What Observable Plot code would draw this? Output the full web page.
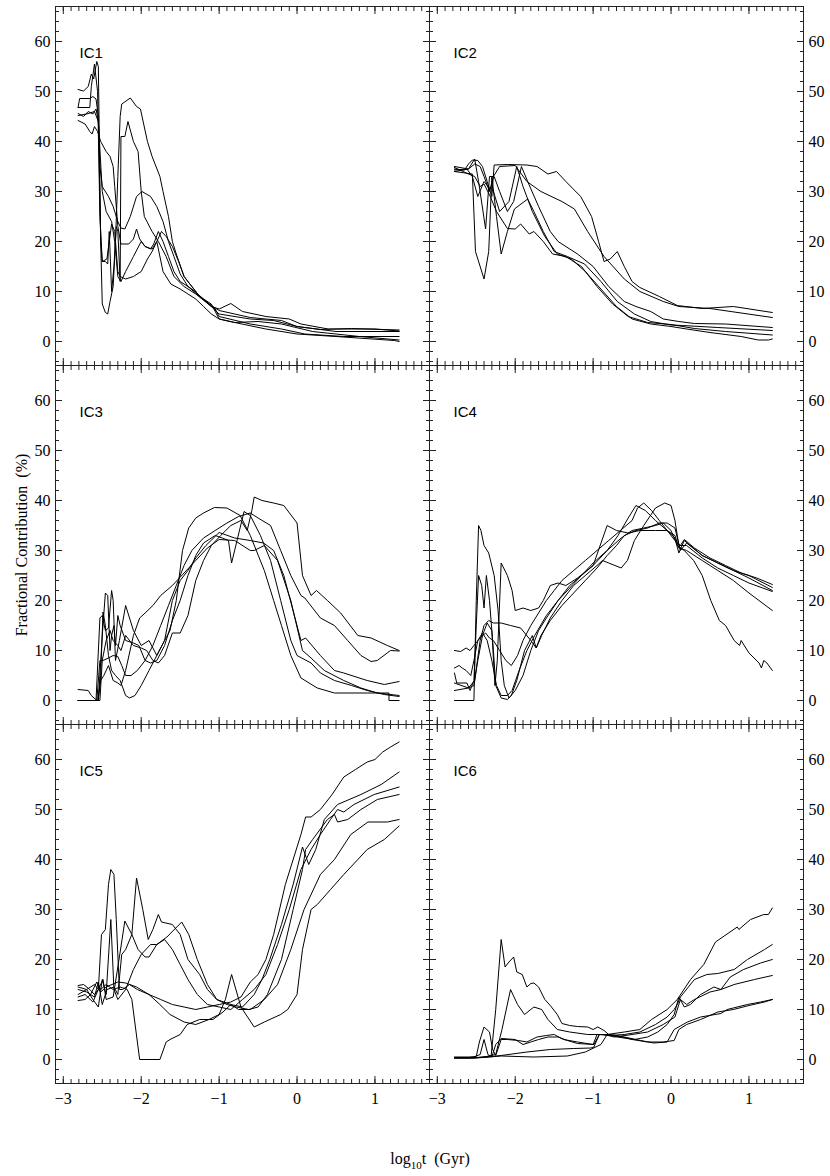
<!DOCTYPE html>
<html><head><meta charset="utf-8">
<script src="https://cdn.jsdelivr.net/npm/d3@7"></script>
<script src="https://cdn.jsdelivr.net/npm/@observablehq/plot@0.6"></script>
<style>
body{margin:0;background:#fff}
#wrap{position:relative;width:830px;height:1176px}
#xl{position:absolute;top:1151px;left:0;width:860px;text-align:center;font-family:"Liberation Serif","Times New Roman",serif;font-size:16px;line-height:16px;color:#000;white-space:pre}
#xl sub{font-size:11px;vertical-align:-5px;line-height:0}
</style></head>
<body><div id="wrap"><div id="chart"></div><div id="xl">log<sub>10</sub>t  (Gyr)</div></div>
<script>
// ---- data: each panel = list of series, each series = [log10 t, fractional contribution %] ----
const panelNames = ["IC1","IC2","IC3","IC4","IC5","IC6"];
const xMajor = [-3,-2,-1,0,1];
const yMajor = [0,10,20,30,40,50,60];

const IC1 = [
[[-2.81,50.4],[-2.74,50.1],[-2.68,51],[-2.64,53.5],[-2.61,52.5],[-2.57,56],[-2.55,55],[-2.52,20],[-2.5,7.5],[-2.46,5.8],[-2.43,5.5],[-2.4,8],[-2.36,11],[-2.33,20],[-2.3,33],[-2.27,45],[-2.25,47.5],[-2.14,48.7],[-2.06,47],[-2.01,46.5],[-1.92,40],[-1.86,37],[-1.76,33],[-1.72,30],[-1.65,25],[-1.6,20],[-1.55,17.5],[-1.45,13],[-1.35,11],[-1.25,9],[-1.1,7.2],[-1.0,6.2],[-0.6,4.8],[-0.2,4.2],[0.0,3.0],[0.3,2.4],[0.7,2.6],[1.31,2.3]],
[[-2.81,46.8],[-2.79,48.6],[-2.66,48.6],[-2.62,49],[-2.58,48.5],[-2.55,45],[-2.52,20],[-2.5,16],[-2.46,16],[-2.43,15.5],[-2.41,22],[-2.38,10],[-2.35,15],[-2.32,23],[-2.3,22],[-2.27,12],[-2.26,41],[-2.21,41],[-2.17,44],[-2.1,40],[-2.04,38],[-2.0,30],[-1.96,25],[-1.86,22],[-1.78,20],[-1.68,17],[-1.58,13],[-1.45,11],[-1.3,9.5],[-1.1,7],[-1.0,6.5],[-0.85,7.6],[-0.7,6],[-0.4,5],[-0.1,4.5],[0.05,3.5],[0.4,2.5],[1.0,2.5],[1.31,2.1]],
[[-2.81,45.6],[-2.74,45],[-2.68,46],[-2.62,45.5],[-2.58,46.5],[-2.55,44],[-2.53,35],[-2.5,31],[-2.42,29],[-2.36,27],[-2.3,24],[-2.26,22.7],[-2.21,22.5],[-2.14,25],[-2.06,29],[-1.99,30],[-1.88,29],[-1.8,27],[-1.72,24],[-1.65,20],[-1.58,17],[-1.5,13.5],[-1.4,11],[-1.25,9],[-1.1,7],[-1.0,5.5],[-0.6,4.5],[-0.3,4.2],[0.0,3.0],[0.5,2.0],[1.31,2.0]],
[[-2.81,44.2],[-2.72,43.5],[-2.66,42],[-2.63,41.5],[-2.6,43],[-2.56,42],[-2.52,40],[-2.45,38],[-2.4,37],[-2.36,35],[-2.34,31],[-2.3,23],[-2.26,19.5],[-2.16,19.5],[-2.1,20.5],[-2.06,22.5],[-2.02,20.5],[-1.95,19],[-1.88,18.5],[-1.84,19.5],[-1.78,22],[-1.72,20],[-1.65,17],[-1.58,14],[-1.5,12],[-1.35,10.5],[-1.2,8.5],[-1.05,6.5],[-1.0,5],[-0.6,3.5],[-0.2,2.5],[0.1,1.5],[0.6,1.0],[1.31,1.0]],
[[-2.81,46.8],[-2.66,46.8],[-2.64,51],[-2.6,55.5],[-2.56,50],[-2.53,25],[-2.5,16],[-2.44,16.5],[-2.38,23.5],[-2.34,22],[-2.3,14],[-2.27,13],[-2.2,12.5],[-2.1,13],[-2.0,14],[-1.92,16.5],[-1.86,18],[-1.8,20],[-1.74,22],[-1.68,21],[-1.6,19],[-1.52,16],[-1.45,13],[-1.35,11],[-1.25,9],[-1.1,7.5],[-1.0,4.5],[-0.8,3.8],[-0.5,4.0],[-0.2,3.5],[0.2,2.0],[0.8,1.0],[1.31,0.3]],
[[-2.81,45.2],[-2.7,45.5],[-2.6,46],[-2.55,44],[-2.5,30],[-2.45,26],[-2.38,24],[-2.34,20],[-2.3,13],[-2.26,12],[-2.2,14],[-2.1,17],[-2.0,20],[-1.95,19],[-1.86,18.5],[-1.8,20],[-1.72,14],[-1.62,11.5],[-1.5,10.5],[-1.4,9.5],[-1.3,8.5],[-1.2,7],[-1.1,5.5],[-1.0,4.5],[-0.8,3.8],[-0.4,2.5],[0.0,1.5],[0.5,1.0],[1.25,0.2],[1.31,0.0]]
];

const IC2 = [
[[-2.78,34.5],[-2.65,34.3],[-2.6,35.5],[-2.55,36.3],[-2.48,36.2],[-2.42,35],[-2.36,32],[-2.3,29],[-2.27,35.3],[-2.1,35.4],[-1.85,35.3],[-1.72,35],[-1.58,33.5],[-1.47,34],[-1.35,32],[-1.16,29],[-1.02,25],[-0.93,20],[-0.86,16],[-0.78,16.5],[-0.69,18],[-0.6,15],[-0.5,12],[-0.4,10.8],[-0.15,9],[0.08,7.2],[0.4,6.6],[0.8,7],[1.3,5.8]],
[[-2.78,34],[-2.6,34.5],[-2.52,35.5],[-2.45,35],[-2.4,33],[-2.33,30],[-2.28,33],[-2.2,35],[-2.0,35.2],[-1.85,32],[-1.67,30],[-1.4,28],[-1.24,26.5],[-1.07,22],[-0.86,17],[-0.6,12.5],[-0.4,10],[-0.1,8],[0.1,7],[0.5,6.6],[1.3,4.8]],
[[-2.78,34],[-2.55,33.5],[-2.51,18],[-2.4,12.5],[-2.34,18],[-2.3,33],[-2.24,25],[-2.18,17.5],[-2.1,22],[-2.01,26.5],[-1.84,28.5],[-1.76,26],[-1.64,22],[-1.5,18],[-1.33,17],[-1.11,15.5],[-0.9,12],[-0.69,8],[-0.47,5.5],[-0.26,4],[0,3.3],[0.15,3.2],[0.6,2.8],[1.3,2.2]],
[[-2.78,35],[-2.6,34.5],[-2.52,36.5],[-2.47,32],[-2.38,22.5],[-2.33,33],[-2.27,33],[-2.2,30],[-2.1,26],[-2.02,28],[-1.92,35],[-1.84,32],[-1.7,27],[-1.55,22],[-1.45,20],[-1.2,17.5],[-1.0,15],[-0.8,11],[-0.6,8],[-0.45,7],[-0.26,6],[-0.1,4.5],[0.1,4],[0.3,3.6],[0.7,3.5],[1.3,2.8]],
[[-2.78,34.8],[-2.6,33.5],[-2.52,33],[-2.45,31],[-2.4,31.5],[-2.32,29],[-2.24,26],[-2.1,22.6],[-2.0,22.5],[-1.93,23.5],[-1.82,21.5],[-1.76,22],[-1.64,20],[-1.52,17.5],[-1.35,17],[-1.15,15],[-0.95,11],[-0.75,7.5],[-0.55,5],[-0.3,3.8],[0,3.4],[0.3,2.6],[0.7,2],[1.3,1.3]],
[[-2.78,34.3],[-2.62,34.5],[-2.55,33],[-2.48,29],[-2.4,32],[-2.35,31],[-2.28,30],[-2.2,26],[-2.08,28],[-1.98,35],[-1.9,31],[-1.78,26],[-1.62,21],[-1.46,17.5],[-1.28,16.5],[-1.1,14],[-0.9,10.5],[-0.7,7],[-0.5,4.5],[-0.26,3.5],[0,3],[0.2,2.5],[0.5,1.8],[0.9,1],[1.12,0.3],[1.25,0.3],[1.3,0.5]]
];

const IC3 = [
[[-2.81,0],[-2.55,0],[-2.52,5],[-2.49,17.7],[-2.46,15],[-2.42,9],[-2.38,6],[-2.33,5],[-2.27,4],[-2.2,1],[-2.15,0.5],[-2.08,1],[-2.0,3],[-1.9,6],[-1.8,9],[-1.7,12],[-1.63,14],[-1.55,20],[-1.47,30],[-1.39,34.5],[-1.3,36.5],[-1.2,37.5],[-1.06,38.6],[-0.9,38.5],[-0.73,37],[-0.6,33],[-0.42,26],[-0.3,20],[-0.2,15],[-0.08,9],[0.05,4.5],[0.26,2.5],[0.48,1.5],[0.9,1.5],[1.18,1.5],[1.18,0],[1.31,0]],
[[-2.81,2.2],[-2.68,2],[-2.64,1],[-2.57,0],[-2.53,0],[-2.5,8],[-2.45,12],[-2.4,14],[-2.36,12],[-2.3,11],[-2.26,10],[-2.2,13],[-2.1,11],[-2.0,10.5],[-1.93,10],[-1.85,8],[-1.78,7.5],[-1.7,9],[-1.6,13.5],[-1.5,13.5],[-1.4,17],[-1.3,24],[-1.2,28],[-1.1,31],[-0.98,33],[-0.85,35],[-0.72,36],[-0.64,34],[-0.58,38],[-0.55,40.7],[-0.45,40],[-0.3,39.5],[-0.17,39],[0.0,35.5],[0.07,25],[0.18,21],[0.25,22],[0.39,20],[0.56,17.5],[0.78,13],[0.95,12.5],[1.16,11],[1.31,10]],
[[-2.81,0],[-2.57,0],[-2.53,8],[-2.49,8],[-2.42,8.5],[-2.36,9],[-2.3,8.8],[-2.25,7],[-2.2,5],[-2.13,5],[-2.05,6],[-1.95,8],[-1.85,11],[-1.75,15],[-1.65,19],[-1.55,23],[-1.45,27],[-1.35,30],[-1.2,32.5],[-1.05,34],[-0.9,35.5],[-0.75,36.8],[-0.6,37.5],[-0.5,36.5],[-0.34,35],[-0.21,30],[-0.08,25],[0.05,21],[0.1,20.5],[0.3,16.5],[0.48,15],[0.65,12],[0.82,9],[0.95,7.8],[1.03,8],[1.2,10],[1.31,9.9]],
[[-2.81,0],[-2.55,0],[-2.5,13],[-2.46,21.5],[-2.43,21],[-2.4,10],[-2.38,13],[-2.35,15],[-2.33,11],[-2.3,17],[-2.27,15],[-2.2,12],[-2.1,11.5],[-2.03,11],[-1.95,8],[-1.88,7.5],[-1.8,8],[-1.7,11],[-1.6,16],[-1.5,20],[-1.4,25],[-1.3,29],[-1.2,31.5],[-1.05,33],[-0.96,32.5],[-0.88,32],[-0.84,27.5],[-0.77,32],[-0.68,37.8],[-0.6,37],[-0.47,33],[-0.34,28],[-0.21,20],[-0.08,12],[0.0,9],[0.18,7.5],[0.3,5.5],[0.48,4],[0.7,3],[0.9,2],[1.12,1.2],[1.31,0.8]],
[[-2.81,0],[-2.58,0],[-2.53,16.5],[-2.5,17],[-2.46,14],[-2.42,14.5],[-2.38,22],[-2.36,20],[-2.33,8],[-2.28,12],[-2.2,19],[-2.1,14],[-2.0,11],[-1.9,12],[-1.8,9],[-1.7,12],[-1.6,20],[-1.5,24],[-1.4,26],[-1.3,28.5],[-1.17,31],[-1.0,33.6],[-0.8,32.5],[-0.6,32],[-0.43,31.5],[-0.3,30],[-0.17,25],[0.05,12],[0.11,12.5],[0.3,9],[0.48,6],[0.6,5.5],[0.9,4],[1.12,3.2],[1.31,3.8]],
[[-2.81,0],[-2.56,0],[-2.52,4],[-2.48,5],[-2.42,7],[-2.36,4],[-2.3,3.5],[-2.26,3],[-2.2,6],[-2.1,13],[-2.02,16.5],[-1.95,17.5],[-1.85,19],[-1.75,21],[-1.6,23],[-1.45,25.5],[-1.3,28],[-1.15,30.5],[-1.0,32.2],[-0.8,32],[-0.6,30],[-0.55,30],[-0.42,31],[-0.25,28],[-0.08,20],[0.07,10],[0.18,8.5],[0.35,6],[0.6,4],[0.82,2.5],[1.03,1.5],[1.31,1.0]]
];

const IC4 = [
[[-2.78,10],[-2.7,9.8],[-2.63,10.5],[-2.58,10],[-2.53,11],[-2.45,12.5],[-2.38,13.5],[-2.33,12.5],[-2.28,12],[-2.2,10],[-2.12,8],[-2.05,7],[-1.97,9],[-1.9,12],[-1.8,15],[-1.7,17.5],[-1.6,20],[-1.5,22],[-1.4,24],[-1.25,26],[-1.1,28],[-0.95,30],[-0.8,32],[-0.65,34],[-0.5,36],[-0.43,38.5],[-0.35,39.5],[-0.25,38],[-0.15,36],[-0.05,34],[0.05,32],[0.12,31],[0.17,32.2],[0.3,30.5],[0.5,28.5],[0.7,27],[0.9,25.5],[1.1,24.5],[1.3,23.2]],
[[-2.78,6.5],[-2.72,7],[-2.68,6.5],[-2.63,6],[-2.57,5],[-2.53,8],[-2.48,12],[-2.42,13.5],[-2.36,12],[-2.3,8],[-2.24,3],[-2.18,1],[-2.1,1],[-2.04,2],[-1.95,6],[-1.85,10],[-1.75,13],[-1.6,17],[-1.45,20],[-1.3,23],[-1.15,25],[-1.0,27.5],[-0.82,30],[-0.64,32.5],[-0.5,34],[-0.35,34.5],[-0.2,35],[-0.1,35.5],[0.0,34],[0.08,31],[0.17,30],[0.29,28],[0.4,25],[0.51,20],[0.62,16],[0.7,15],[0.81,12],[0.88,11],[0.9,12],[1.0,9.5],[1.13,7.5],[1.16,6.5],[1.19,8],[1.23,7.5],[1.3,6]],
[[-2.78,0],[-2.53,0],[-2.5,20],[-2.47,35],[-2.44,34],[-2.4,31],[-2.34,29.5],[-2.27,25],[-2.22,18],[-2.18,8],[-2.14,3],[-2.08,0.5],[-2.0,2],[-1.9,5],[-1.8,10],[-1.7,14],[-1.6,16.5],[-1.45,20],[-1.3,22.5],[-1.15,25],[-1.0,27],[-0.82,30],[-0.68,33],[-0.55,36.5],[-0.45,39],[-0.33,38],[-0.2,36],[-0.05,34],[0.05,32.5],[0.1,29.5],[0.17,32],[0.4,29],[0.6,27.5],[0.8,26],[1.0,25],[1.3,22.6]],
[[-2.78,5.5],[-2.75,3.5],[-2.62,3.5],[-2.58,2],[-2.53,4],[-2.5,15],[-2.47,25],[-2.43,23],[-2.4,18.5],[-2.37,25],[-2.33,20],[-2.28,10],[-2.25,3],[-2.18,0.5],[-2.1,0.2],[-2.05,1],[-1.98,4],[-1.88,10],[-1.78,13],[-1.73,10.5],[-1.66,13],[-1.55,16.5],[-1.4,20],[-1.25,23],[-1.1,25],[-0.95,27],[-0.88,28],[-0.8,27.5],[-0.64,26.5],[-0.56,28],[-0.47,32],[-0.35,35],[-0.2,38.5],[-0.08,39.5],[0.0,39],[0.05,36],[0.1,31],[0.2,31],[0.4,28.5],[0.6,26.5],[0.8,25],[1.0,23.5],[1.3,21.8]],
[[-2.78,3.5],[-2.6,2.5],[-2.53,3],[-2.48,8],[-2.42,13],[-2.36,15.5],[-2.3,14],[-2.26,3],[-2.23,8],[-2.18,27.5],[-2.1,25],[-2.04,22],[-2.0,18],[-1.9,18.5],[-1.8,18],[-1.7,18.5],[-1.64,20],[-1.55,23],[-1.45,23.5],[-1.35,23],[-1.2,24.5],[-1.0,27],[-0.82,35],[-0.7,34],[-0.55,33.5],[-0.4,34],[-0.2,34],[-0.05,34],[0.05,33],[0.1,30.5],[0.2,30],[0.4,28],[0.6,26],[0.8,24],[1.0,21.5],[1.3,18]],
[[-2.78,2],[-2.6,2.5],[-2.52,4],[-2.45,12],[-2.4,15],[-2.34,16],[-2.28,15.5],[-2.18,15.5],[-2.06,15],[-1.93,14.5],[-1.8,12],[-1.73,10.5],[-1.67,13],[-1.55,16],[-1.4,19],[-1.25,21.5],[-1.1,24],[-0.95,26.5],[-0.82,29],[-0.7,31],[-0.6,33],[-0.45,34],[-0.3,34.5],[-0.15,35.5],[-0.05,35.5],[0.05,34.5],[0.12,30],[0.2,31.5],[0.4,29],[0.6,27.5],[0.8,26],[1.0,24.5],[1.3,22]]
];

const IC5 = [
[[-2.81,14.8],[-2.74,15],[-2.66,14],[-2.6,13],[-2.55,14],[-2.51,25],[-2.46,26],[-2.42,35],[-2.39,38],[-2.35,37],[-2.32,28],[-2.28,14],[-2.24,14],[-2.15,15],[-2.05,14],[-1.9,13],[-1.75,12],[-1.6,11],[-1.45,10.5],[-1.3,10],[-1.15,10.5],[-1.0,11],[-0.85,11.5],[-0.72,12.5],[-0.6,15.5],[-0.5,17],[-0.4,20],[-0.3,25],[-0.15,35],[0.05,45],[0.11,48.5],[0.18,48.5],[0.3,50],[0.45,53],[0.6,56.5],[0.75,58],[0.9,59.5],[1.0,60],[1.1,61.5],[1.2,62.5],[1.31,63.5]],
[[-2.81,14],[-2.7,13.5],[-2.6,12.5],[-2.55,15.5],[-2.5,11],[-2.44,14],[-2.35,14.5],[-2.3,13],[-2.25,21],[-2.2,22],[-2.12,25],[-2.06,36.3],[-1.98,30],[-1.91,24],[-1.85,26],[-1.78,29],[-1.74,27.5],[-1.6,27],[-1.5,25],[-1.4,20],[-1.25,17],[-1.15,14],[-1.03,12],[-0.85,11],[-0.7,10.5],[-0.55,13],[-0.45,16],[-0.35,20],[-0.2,27],[-0.05,35],[0.07,42.5],[0.15,39],[0.24,42],[0.35,48],[0.52,51],[0.82,53],[1.08,55],[1.31,57.5]],
[[-2.81,12.5],[-2.72,13],[-2.62,11.5],[-2.55,14],[-2.49,16],[-2.45,12],[-2.36,12.5],[-2.27,21.5],[-2.21,27.7],[-2.12,25],[-2.04,22],[-1.95,20.5],[-1.9,20.5],[-1.8,23],[-1.7,24],[-1.6,22],[-1.5,19],[-1.4,16],[-1.28,13],[-1.15,11],[-1.0,10.5],[-0.85,10],[-0.7,12],[-0.55,14],[-0.4,17],[-0.25,23],[-0.1,30],[0.05,38],[0.18,42],[0.3,45],[0.43,48],[0.52,50],[0.6,49.5],[0.73,51],[0.99,53],[1.31,54.5]],
[[-2.81,11.8],[-2.72,12],[-2.65,13],[-2.57,15.5],[-2.52,14],[-2.45,15],[-2.36,14],[-2.27,14.5],[-2.18,14],[-2.12,12],[-2.02,0],[-1.76,0],[-1.68,3.5],[-1.63,4],[-1.5,5],[-1.41,7],[-1.25,8],[-1.08,8],[-0.95,9.5],[-0.85,11],[-0.75,10],[-0.6,10],[-0.42,12],[-0.25,15],[-0.08,22],[0.09,30],[0.3,37],[0.48,40],[0.69,45],[0.91,47.5],[1.16,47.5],[1.31,48]],
[[-2.81,13],[-2.7,14],[-2.62,12],[-2.55,10.5],[-2.5,16],[-2.45,13],[-2.39,28],[-2.35,14],[-2.3,12],[-2.2,14],[-2.1,18],[-2.0,21],[-1.88,23],[-1.8,23],[-1.67,24.5],[-1.48,27.5],[-1.39,25],[-1.28,20],[-1.15,15],[-1.03,12],[-0.9,11],[-0.78,10.5],[-0.62,10],[-0.5,10.5],[-0.38,13],[-0.2,20],[-0.05,30],[0.07,38],[0.11,42],[0.2,44],[0.39,48],[0.48,49],[0.52,47.5],[0.65,48],[0.82,50],[1.03,52],[1.31,53]],
[[-2.81,14.5],[-2.7,14],[-2.6,15],[-2.52,13.5],[-2.45,14.5],[-2.3,15.5],[-2.2,15.3],[-2.06,14.5],[-1.9,13],[-1.76,11],[-1.63,9],[-1.45,7.5],[-1.3,7],[-1.13,8],[-1.0,9],[-0.92,12],[-0.84,17],[-0.72,10.5],[-0.55,6.5],[-0.42,7.5],[-0.21,9],[-0.12,10],[0.0,13],[0.07,22],[0.18,30],[0.26,31],[0.43,34],[0.6,37],[0.78,40],[0.9,42],[1.12,44],[1.31,46.7]]
];

const IC6 = [
[[-2.78,0.4],[-2.6,0.3],[-2.45,0.4],[-2.31,0.6],[-2.25,10],[-2.18,24],[-2.13,18.5],[-2.08,19.5],[-2.02,20.5],[-1.98,17.5],[-1.91,17],[-1.85,14.5],[-1.8,15.2],[-1.76,15.3],[-1.7,14.5],[-1.62,12],[-1.55,10.8],[-1.46,9],[-1.4,7.2],[-1.3,6.8],[-1.2,6.6],[-1.07,6.5],[-1.0,6],[-0.94,6.5],[-0.86,5.8],[-0.8,5],[-0.6,4.5],[-0.39,3.8],[-0.22,3.3],[-0.05,3.5],[0.04,6],[0.21,7.5],[0.38,8.5],[0.64,9.2],[0.72,10],[0.98,11],[1.15,11.5],[1.3,12]],
[[-2.78,0.3],[-2.55,0.3],[-2.4,0.5],[-2.25,1],[-2.17,6],[-2.06,14],[-1.97,11],[-1.88,9],[-1.76,10.5],[-1.66,10],[-1.58,8],[-1.46,6],[-1.3,5.5],[-1.07,5],[-0.82,5],[-0.69,4.5],[-0.47,4],[-0.3,4.5],[-0.17,5.5],[-0.05,7],[0.04,9],[0.1,12.5],[0.17,10.5],[0.25,11],[0.38,13],[0.55,14.5],[0.64,14],[0.76,16.5],[0.93,18],[1.15,19.3],[1.3,20]],
[[-2.78,0.5],[-2.6,0.5],[-2.5,0.6],[-2.46,3.5],[-2.4,6.5],[-2.33,5.5],[-2.29,2],[-2.25,0.8],[-2.18,4],[-2.1,4],[-1.96,3.8],[-1.85,3.5],[-1.72,4.5],[-1.6,4.8],[-1.5,5],[-1.38,4],[-1.2,3.5],[-1.0,3],[-0.95,5],[-0.82,5],[-0.6,5.5],[-0.4,6],[-0.25,8],[-0.05,10],[0.08,12],[0.25,16],[0.42,19],[0.57,23.5],[0.85,26.5],[0.87,26],[1.02,28],[1.19,29],[1.25,29],[1.3,30.3]],
[[-2.78,0.4],[-2.55,0.4],[-2.45,1],[-2.4,4],[-2.35,1],[-2.3,0.5],[-2.25,3],[-2.18,4.2],[-2.0,4],[-1.9,3],[-1.8,3.5],[-1.7,4],[-1.58,4.5],[-1.45,4.5],[-1.33,3.8],[-1.2,3.2],[-0.99,3],[-0.92,5],[-0.8,4.8],[-0.6,5],[-0.4,5.5],[-0.2,7],[-0.05,8.5],[0.04,10],[0.08,11],[0.12,12.5],[0.3,16],[0.46,17],[0.6,17.2],[0.81,18],[0.98,20],[1.2,22],[1.3,23]],
[[-2.78,0.3],[-2.5,0.4],[-2.3,0.6],[-2.18,0.8],[-1.85,1.5],[-1.55,2],[-1.25,2.2],[-1.03,2.3],[-0.99,2.5],[-0.92,5],[-0.86,5],[-0.73,4.5],[-0.5,5],[-0.3,5.5],[-0.1,7],[0.05,8.5],[0.12,12],[0.2,11],[0.3,12],[0.5,13.5],[0.64,14],[0.81,15],[1.07,16],[1.3,16.8]],
[[-2.78,0.3],[-2.5,0.3],[-2.18,0.7],[-1.76,0.5],[-1.33,0.7],[-1.1,1.5],[-0.9,3],[-0.82,5],[-0.7,4.8],[-0.5,4],[-0.3,3.5],[-0.1,3.5],[0.04,3.8],[0.1,6],[0.2,7],[0.38,8],[0.6,9.5],[0.8,10],[1.0,10.8],[1.2,11.5],[1.3,12]]
];

// ---- layout of panels (2 columns x 3 rows) ----
const panelSeries = [IC1, IC2, IC3, IC4, IC5, IC6];
const panels = panelNames.map((name, i) => ({name, col: i % 2 === 0 ? "L" : "R", row: Math.floor(i / 2)}));
const rows = panels.flatMap((p, i) =>
  panelSeries[i].flatMap((s, j) => s.map(([x, y]) => ({col: p.col, row: p.row, id: p.name + "-" + j, x, y}))));

const xMinor = d3.range(-31, 18).map(i => i / 10);
const yMinor = d3.range(-4, 67, 2);
const tickColor = "#222";
const serif = '"Liberation Serif", "Times New Roman", serif';

function innerTicks(xt, yt, size) {
  return [
    Plot.axisX({anchor: "bottom", ticks: xt, tickSize: size, dy: -size, fill: "none", stroke: tickColor, facetAnchor: null, label: null}),
    Plot.axisX({anchor: "top", ticks: xt, tickSize: size, dy: size, fill: "none", stroke: tickColor, facetAnchor: null, label: null}),
    Plot.axisY({anchor: "left", ticks: yt, tickSize: size, dx: size, fill: "none", stroke: tickColor, facetAnchor: null, label: null}),
    Plot.axisY({anchor: "right", ticks: yt, tickSize: size, dx: -size, fill: "none", stroke: tickColor, facetAnchor: null, label: null})
  ];
}

const chart = Plot.plot({
  width: 830,
  height: 1110,
  marginLeft: 55,
  marginRight: 27,
  marginTop: 5,
  marginBottom: 27,
  style: {fontFamily: serif, fontSize: "16px", color: "#000", background: "#fff", overflow: "visible"},
  x: {domain: [-3.1, 1.7]},
  y: {domain: [-4.8, 67]},
  fx: {domain: ["L", "R"], padding: 0, axis: null},
  fy: {domain: [0, 1, 2], padding: 0, axis: null},
  marks: [
    ...innerTicks(xMinor, yMinor, 4),
    ...innerTicks(xMajor, yMajor, 7),
    Plot.frame({stroke: "#222", strokeWidth: 1}),
    Plot.line(rows, {x: "x", y: "y", z: "id", fx: "col", fy: "row", stroke: "#000", strokeWidth: 1}),
    Plot.text(panels, {fx: "col", fy: "row", text: "name", frameAnchor: "top-left", dx: 24, dy: 41, textAnchor: "start", fontFamily: '"Liberation Sans", Arial, sans-serif', fontSize: 15, fill: "#000"}),
    Plot.axisX({anchor: "bottom", ticks: xMajor, tickFormat: d3.format("d"), tickSize: 0, tickPadding: 9, fontFamily: serif, fontSize: 16, label: null}),
    Plot.axisY({anchor: "left", ticks: yMajor, tickFormat: d3.format("d"), tickSize: 0, tickPadding: 5, fontFamily: serif, fontSize: 16, label: "Fractional Contribution \u00a0(%)", labelAnchor: "center", labelOffset: 40, labelArrow: "none"}),
    Plot.axisY({anchor: "right", ticks: yMajor, tickFormat: d3.format("d"), tickSize: 0, tickPadding: 5, fontFamily: serif, fontSize: 16, label: null})
  ]
});
document.getElementById("chart").appendChild(chart);
</script>
</body></html>
